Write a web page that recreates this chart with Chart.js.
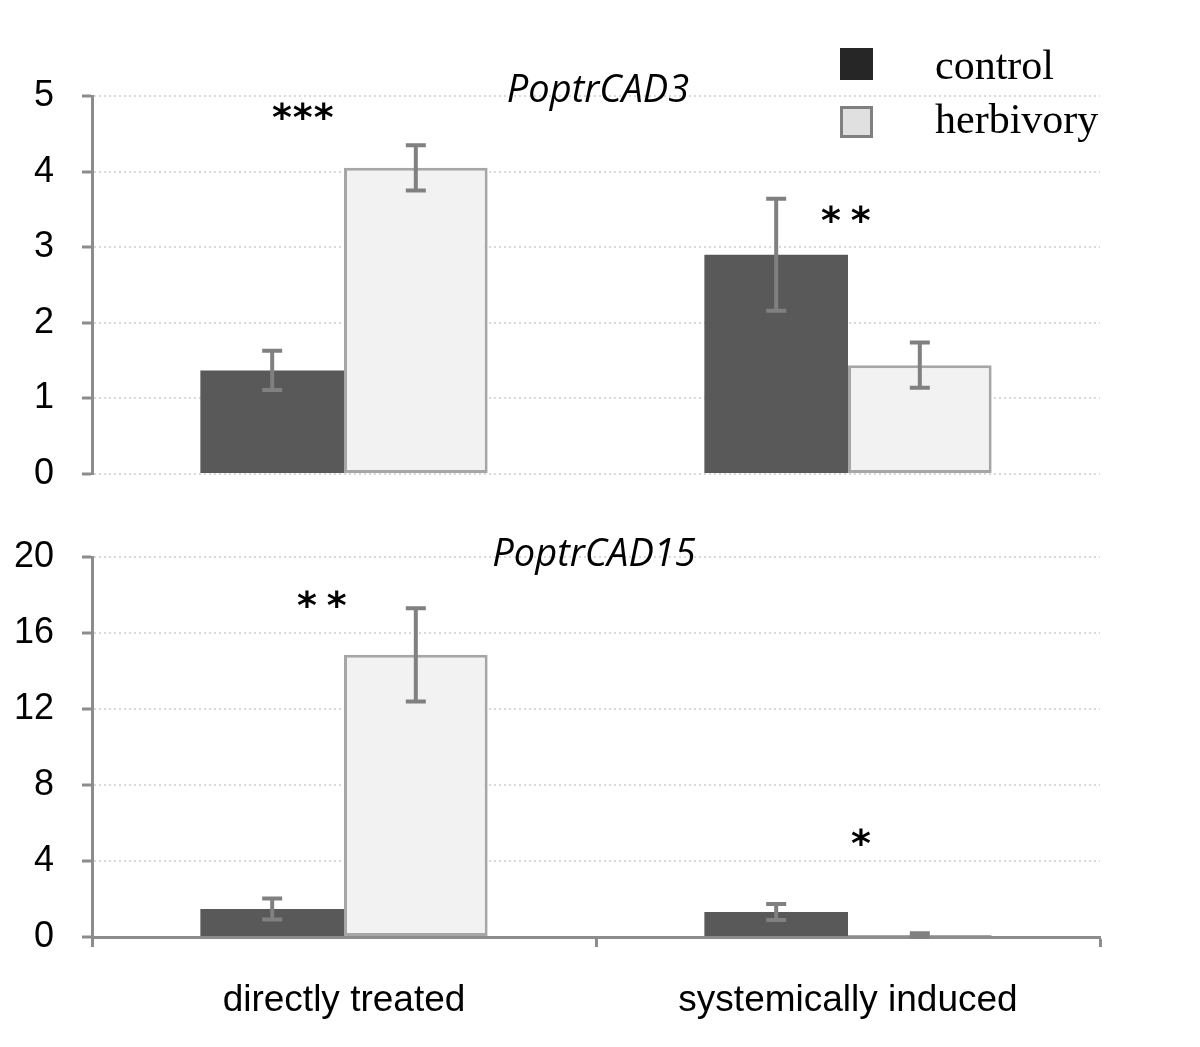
<!DOCTYPE html>
<html>
<head>
<meta charset="utf-8">
<script src="https://cdn.jsdelivr.net/npm/chart.js@4/dist/chart.umd.min.js"></script>
<style>
  body { margin: 0; background: #fff; }
  #wrap { position: relative; width: 1200px; height: 1047px; }
  canvas { position: absolute; left: 0; }
  #c1 { top: 0; }
  #c2 { top: 500px; }
  .txt { position: absolute; white-space: nowrap; color: #000; }
  .gene { font-family: "Open Sans", sans-serif; font-style: italic; font-size: 38px; width: 600px; text-align: center; line-height: 52px; }
  .star { font-family: "DejaVu Sans", sans-serif; font-weight: bold; font-size: 38px; line-height: 40px; }
  .leg { font-family: "Liberation Serif", "Times New Roman", serif; font-size: 42px; }
  .box { position: absolute; width: 33px; height: 32px; box-sizing: border-box; }
</style>
</head>
<body>
<div id="wrap">
  <canvas id="c1" width="1200" height="530"></canvas>
  <canvas id="c2" width="1200" height="547"></canvas>

  <div class="txt gene" style="left:298px; top:61px;">PoptrCAD3</div>
  <div class="txt gene" style="left:294px; top:525px;">PoptrCAD15</div>

  <div class="txt star" style="left:272px; top:97px; letter-spacing:1px;">***</div>
  <div class="txt star" style="left:821px; top:200px; letter-spacing:10px;">**</div>
  <div class="txt star" style="left:297px; top:585px; letter-spacing:10px;">**</div>
  <div class="txt star" style="left:851px; top:823px;">*</div>

  <div class="box" style="left:840px; top:48px; background:#262626;"></div>
  <div class="box" style="left:840px; top:106px; background:#e0e0e0; border:3px solid #808080;"></div>
  <div class="txt leg" style="left:935px; top:41px;">control</div>
  <div class="txt leg" style="left:935px; top:95px;">herbivory</div>
</div>
<script>
const groups = ['directly treated', 'systemically induced'];
const seriesNames = ['control', 'herbivory'];

// PoptrCAD3
const cad3Control = [1.37, 2.90];
const cad3ControlErr = [0.26, 0.74];
const cad3Herb = [4.05, 1.44];
const cad3HerbErr = [0.30, 0.30];
const cad3Ticks = [0, 1, 2, 3, 4, 5];

// PoptrCAD15
const cad15Control = [1.47, 1.32];
const cad15ControlErr = [0.55, 0.42];
const cad15Herb = [14.85, 0.10];
const cad15HerbErr = [2.45, 0.10];
const cad15Ticks = [0, 4, 8, 12, 16, 20];

const axisGrey = '#8c8c8c';

const errorBars = {
  id: 'errorBars',
  afterDatasetsDraw(chart) {
    const ctx = chart.ctx;
    const y = chart.scales.y;
    chart.data.datasets.forEach((ds, i) => {
      const meta = chart.getDatasetMeta(i);
      meta.data.forEach((bar, j) => {
        const v = ds.data[j], e = ds.errors[j];
        const top = y.getPixelForValue(v + e);
        const bot = y.getPixelForValue(Math.max(0, v - e));
        ctx.save();
        ctx.strokeStyle = '#808080';
        ctx.lineWidth = 4;
        ctx.beginPath();
        ctx.moveTo(bar.x, top); ctx.lineTo(bar.x, bot);
        ctx.moveTo(bar.x - 10, top); ctx.lineTo(bar.x + 10, top);
        ctx.moveTo(bar.x - 10, bot); ctx.lineTo(bar.x + 10, bot);
        ctx.stroke();
        ctx.restore();
      });
    });
  }
};

const makeDatasets = (ctrl, ctrlErr, herb, herbErr) => [{
  label: seriesNames[0],
  data: ctrl,
  errors: ctrlErr,
  backgroundColor: '#595959',
  borderWidth: 0
}, {
  label: seriesNames[1],
  data: herb,
  errors: herbErr,
  backgroundColor: '#f2f2f2',
  borderColor: '#a6a6a6',
  borderWidth: 3,
  borderSkipped: false
}];

const yScale = (max, ticks) => ({
  min: 0,
  max: max,
  afterFit: s => { s.width = 92; },
  afterBuildTicks: s => { s.ticks = ticks.map(v => ({ value: v })); },
  ticks: {
    color: '#000',
    padding: 28,
    font: { family: 'Liberation Sans', size: 36 }
  },
  grid: {
    color: '#d9d9d9',
    lineWidth: 2,
    tickColor: axisGrey,
    tickWidth: 3,
    tickLength: 10
  },
  border: { color: axisGrey, width: 3, dash: [2, 3] }
});

const baseOpts = {
  responsive: false,
  animation: false,
  plugins: { legend: { display: false }, tooltip: { enabled: false } },
  datasets: { bar: { categoryPercentage: 0.57, barPercentage: 1 } }
};

new Chart(document.getElementById('c1'), {
  type: 'bar',
  data: { labels: groups, datasets: makeDatasets(cad3Control, cad3ControlErr, cad3Herb, cad3HerbErr) },
  options: {
    ...baseOpts,
    layout: { padding: { top: 96, right: 100, bottom: 56, left: 0 } },
    scales: {
      x: { display: false },
      y: yScale(5, cad3Ticks)
    }
  },
  plugins: [errorBars]
});

new Chart(document.getElementById('c2'), {
  type: 'bar',
  data: { labels: groups, datasets: makeDatasets(cad15Control, cad15ControlErr, cad15Herb, cad15HerbErr) },
  options: {
    ...baseOpts,
    layout: { padding: { top: 57, right: 100, bottom: 0, left: 0 } },
    scales: {
      x: {
        afterFit: s => { s.height = 110; },
        ticks: {
          color: '#000',
          padding: 32,
          font: { family: 'Liberation Sans', size: 37 }
        },
        grid: {
          offset: true,
          drawOnChartArea: false,
          tickColor: axisGrey,
          tickWidth: 3,
          tickLength: 10
        },
        border: { color: axisGrey, width: 3 }
      },
      y: yScale(20, cad15Ticks)
    }
  },
  plugins: [errorBars]
});
</script>
</body>
</html>
